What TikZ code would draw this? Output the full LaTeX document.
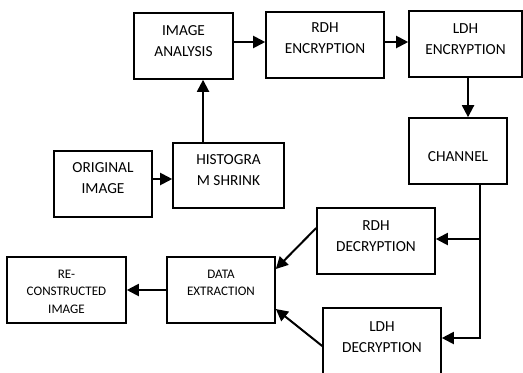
\documentclass[tikz,border=0pt]{standalone}
\usepackage{fontspec}
\setmainfont{Carlito}
\usetikzlibrary{arrows.meta,calc}

\begin{document}
\begin{tikzpicture}[x=0.75pt,y=-0.75pt,line width=1.5pt,>={Triangle[length=9pt,width=9pt]},
  block/.style={draw,line width=1.2pt,minimum height=49.5pt,inner sep=0pt},
  txt/.style={align=center,inner sep=0pt,font=\fontsize{11.5}{15.75}\selectfont},
  smalltxt/.style={txt,font=\fontsize{9.8}{13.2}\selectfont}]
  \useasboundingbox (0,0) rectangle (523,372);
  \clip (0,0) rectangle (523,372);
  % encoder side
  \node[block,minimum width=74.25pt,label={[txt,yshift=3.75pt]center:IMAGE\\ANALYSIS}] (ia) at (183.5,46) {};
  \node[block,minimum width=88.5pt,label={[txt,yshift=4.9pt]center:RDH\\ENCRYPTION}] (rdhe) at (325,45) {};
  \node[block,minimum width=84.75pt,label={[txt,yshift=3.75pt]center:LDH\\ENCRYPTION}] (ldhe) at (465.5,44) {};
  \node[block,minimum width=73.5pt,label={[txt,yshift=-4.5pt]center:CHANNEL}] (chan) at (458,151) {};
  \node[block,minimum width=73.5pt,label={[txt,yshift=4.1pt]center:ORIGINAL\\IMAGE}] (orig) at (103,184) {};
  \node[block,minimum width=83.25pt,minimum height=48.75pt,
        label={[txt,yshift=3.75pt]center:HISTOGRA\\M SHRINK}] (hist) at (228.5,175.5) {};
  % decoder side
  \node[block,minimum width=88.5pt,label={[txt,yshift=3.4pt]center:RDH\\DECRYPTION}] (rdhd) at (376,241) {};
  \node[block,minimum width=88.5pt,label={[txt,yshift=3pt]center:LDH\\DECRYPTION}] (ldhd) at (382,341) {};
  \node[block,minimum width=81pt,label={[smalltxt,yshift=5.25pt]center:DATA\\EXTRACTION}] (de) at (221,290) {};
  \node[block,minimum width=89.25pt,label={[smalltxt,yshift=-1.1pt]center:RE-\\CONSTRUCTED\\IMAGE}] (rc) at (66.5,290) {};
  % forward chain
  \draw[->] ([yshift=3.75pt]orig.east) -- ([yshift=3.75pt]orig.east -| hist.west);
  \draw[->] ([xshift=-19.1pt]hist.north) -- ([xshift=-19.1pt]hist.north |- ia.south);
  \draw[->] ([yshift=3pt]ia.east) -- ([yshift=3pt]ia.east -| rdhe.west);
  \draw[->] ([yshift=2.25pt]rdhe.east) -- ([yshift=2.25pt]rdhe.east -| ldhe.west);
  \draw[->] ([xshift=1.9pt]ldhe.south) -- ([xshift=1.9pt]ldhe.south |- chan.north);
  % channel split
  \coordinate (split) at ([xshift=16.5pt]chan.south);
  \coordinate (rdin) at ([yshift=1.5pt]rdhd.east);
  \draw[->] (split) |- ([yshift=2.25pt]ldhd.east);
  \draw[->] (split |- rdin) -- (rdin);
  % back to the image
  \draw[->] ([yshift=9.75pt]rdhd.west) -- ([yshift=15.75pt]de.east);
  \draw[->] ([yshift=-3.75pt]ldhd.west) -- ([yshift=-14.25pt]de.east);
  \draw[->] (de.west) -- (rc.east);
\end{tikzpicture}
\end{document}
